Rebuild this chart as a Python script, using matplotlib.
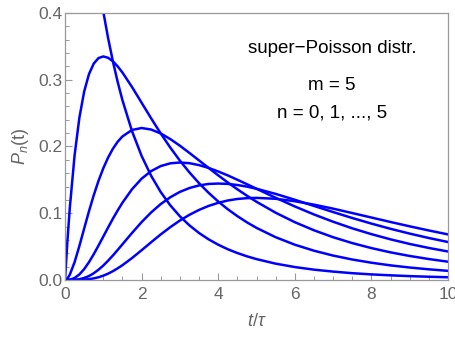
import matplotlib
matplotlib.use("Agg")
import matplotlib.pyplot as plt
from matplotlib.ticker import MultipleLocator, FormatStrFormatter

# sample times t/tau
t = [0, 0.0625, 0.125, 0.25, 0.375, 0.5, 0.625, 0.75, 0.875, 1, 1.125, 1.25,
     1.375, 1.5, 1.75, 2, 2.25, 2.5, 2.75, 3, 3.25, 3.5, 3.75, 4, 4.25, 4.5,
     4.75, 5, 5.5, 6, 6.5, 7, 7.5, 8, 8.5, 9, 9.5, 10]

# P_n(t), n = 0..5
p0 = [1.0, 0.9398, 0.8839, 0.7835, 0.6966, 0.6209, 0.5550, 0.4972, 0.4465,
      0.4019, 0.3625, 0.3277, 0.2968, 0.2693, 0.2230, 0.1859, 0.1560, 0.1317,
      0.1118, 0.0954, 0.0818, 0.0704, 0.0609, 0.0529, 0.0461, 0.0404, 0.0355,
      0.0313, 0.0245, 0.0194, 0.0155, 0.0126, 0.0102, 0.0084, 0.0070, 0.0058,
      0.0049, 0.0041]
p1 = [0.0, 0.0580, 0.1078, 0.1866, 0.2430, 0.2822, 0.3083, 0.3242, 0.3325,
      0.3349, 0.3329, 0.3277, 0.3201, 0.3108, 0.2891, 0.2656, 0.2421, 0.2195,
      0.1983, 0.1788, 0.1611, 0.1450, 0.1306, 0.1176, 0.1060, 0.0957, 0.0864,
      0.0781, 0.0641, 0.0529, 0.0439, 0.0366, 0.0307, 0.0259, 0.0219, 0.0187,
      0.0160, 0.0137]
p2 = [0.0, 0.0021, 0.0079, 0.0267, 0.0509, 0.0770, 0.1028, 0.1269, 0.1486,
      0.1674, 0.1834, 0.1966, 0.2071, 0.2151, 0.2248, 0.2277, 0.2254, 0.2195,
      0.2111, 0.2012, 0.1903, 0.1791, 0.1679, 0.1568, 0.1461, 0.1359, 0.1263,
      0.1172, 0.1008, 0.0866, 0.0745, 0.0641, 0.0553, 0.0478, 0.0414, 0.0360,
      0.0314, 0.0274]
p3 = [0.0, 0.0001, 0.0004, 0.0030, 0.0083, 0.0163, 0.0266, 0.0386, 0.0516,
      0.0651, 0.0786, 0.0918, 0.1042, 0.1158, 0.1360, 0.1518, 0.1632, 0.1707,
      0.1748, 0.1760, 0.1750, 0.1721, 0.1679, 0.1626, 0.1567, 0.1502, 0.1435,
      0.1367, 0.1232, 0.1102, 0.0982, 0.0873, 0.0774, 0.0687, 0.0609, 0.0540,
      0.0480, 0.0427]
p4 = [0.0, 0.0, 0.0, 0.0003, 0.0012, 0.0030, 0.0059, 0.0101, 0.0154,
      0.0217, 0.0289, 0.0367, 0.0450, 0.0535, 0.0705, 0.0867, 0.1013, 0.1138,
      0.1240, 0.1320, 0.1378, 0.1417, 0.1439, 0.1445, 0.1440, 0.1423, 0.1399,
      0.1367, 0.1290, 0.1202, 0.1110, 0.1018, 0.0929, 0.0845, 0.0767, 0.0695,
      0.0629, 0.0569]
p5 = [0.0, 0.0, 0.0, 0.0, 0.0001, 0.0005, 0.0012, 0.0024, 0.0041,
      0.0065, 0.0095, 0.0132, 0.0175, 0.0222, 0.0329, 0.0446, 0.0566, 0.0683,
      0.0792, 0.0891, 0.0977, 0.1050, 0.1110, 0.1156, 0.1191, 0.1214, 0.1226,
      0.1230, 0.1217, 0.1180, 0.1129, 0.1069, 0.1003, 0.0936, 0.0869, 0.0804,
      0.0742, 0.0683]
series = [p0, p1, p2, p3, p4, p5]

annot_lines = ["super\u2212Poisson distr.", "m = 5", "n = 0, 1, ..., 5"]

plt.rcParams['font.family'] = ['Liberation Sans', 'DejaVu Sans']
plt.rcParams['mathtext.fontset'] = 'custom'
plt.rcParams['mathtext.it'] = 'Liberation Sans:italic'
plt.rcParams['mathtext.rm'] = 'Liberation Sans'

fig = plt.figure(figsize=(4.56, 3.37), dpi=100)
ax = fig.add_axes([65/456, 1 - 280/337, (448-65)/456, (280-13)/337])

for s in series:
    ax.plot(t, s, color='#0000ff', lw=1.8, solid_joinstyle='round')

ax.set_xlim(0, 10)
ax.set_ylim(0, 0.4)
ax.xaxis.set_major_locator(MultipleLocator(2))
ax.xaxis.set_minor_locator(MultipleLocator(0.5))
ax.yaxis.set_major_locator(MultipleLocator(0.1))
ax.yaxis.set_minor_locator(MultipleLocator(0.02))
ax.yaxis.set_major_formatter(FormatStrFormatter('%.1f'))

gray = '#999999'
for sp in ax.spines.values():
    sp.set_color(gray)
    sp.set_linewidth(0.9)
ax.tick_params(which='both', direction='in', colors=gray, labelcolor='#666666',
               labelsize=12.5, top=False, right=False)
ax.tick_params(which='major', length=5, width=0.8)
ax.tick_params(which='minor', length=2.8, width=0.7)
ax.tick_params(axis='x', pad=5)
ax.tick_params(axis='y', pad=2)

ax.set_xlabel(r'$t/\tau$', color='#666666', fontsize=13, labelpad=8)
ax.set_ylabel(r'$P_n$(t)', color='#666666', fontsize=13, labelpad=5)

ys = [0.347, 0.291, 0.250]
for txt, yy in zip(annot_lines, ys):
    ax.text(6.97, yy, txt, ha='center', va='center', fontsize=13.5, color='black')

fig.savefig('out.png', dpi=100)
